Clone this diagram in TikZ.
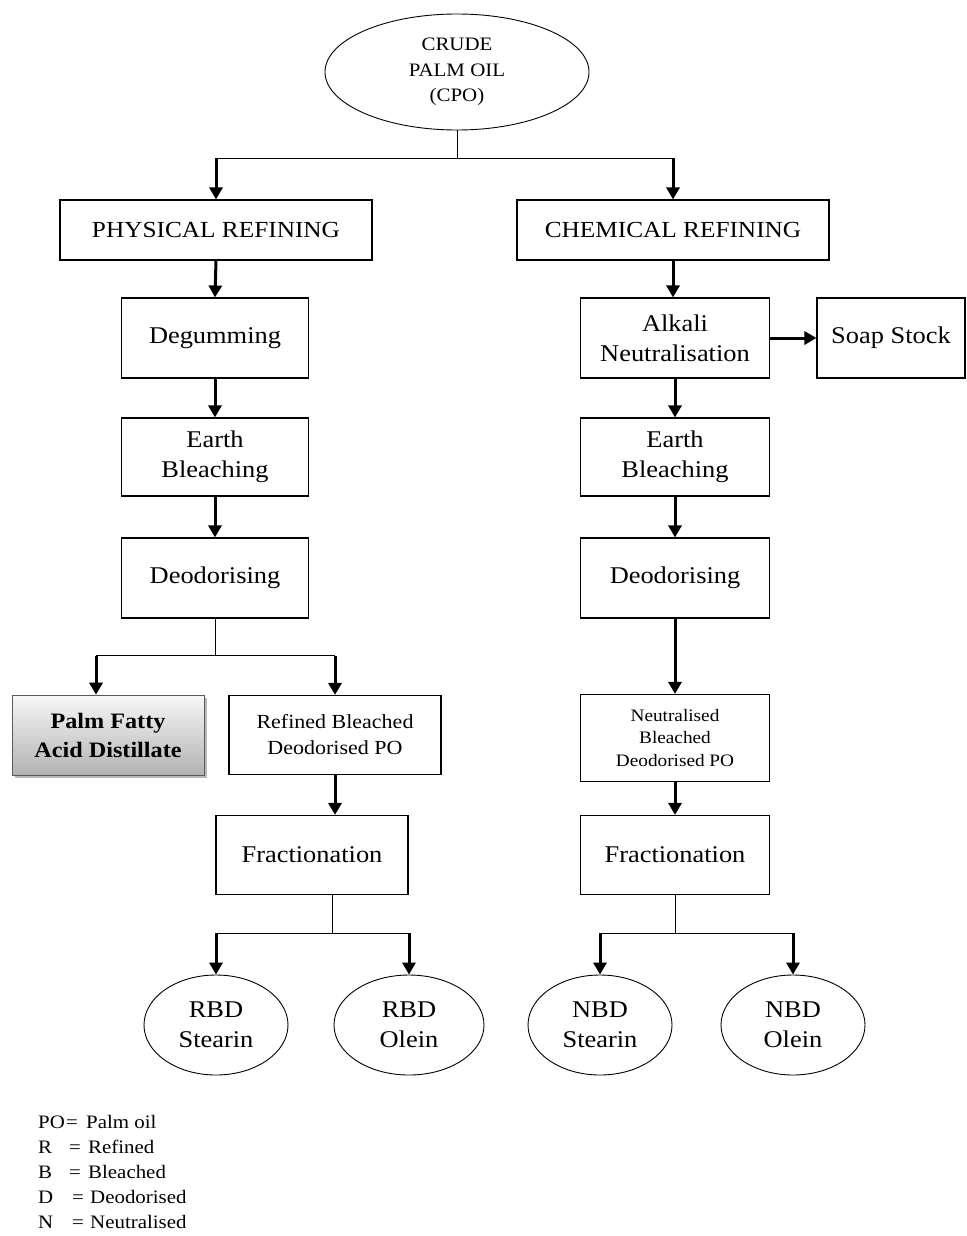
\documentclass[tikz,border=0pt]{standalone}
\usepackage{fontspec}
\setmainfont{Liberation Serif}[FakeStretch=1.1]
\usetikzlibrary{arrows.meta,shapes.geometric,shadows}
\begin{document}
\begin{tikzpicture}[x=1pt,y=-1pt,
  box/.style={draw, line width=1.1pt, align=center, inner sep=0pt,
    font=\fontsize{24}{30}\selectfont},
  oval/.style={draw, ellipse, line width=0.9pt, align=center, inner sep=0pt,
    font=\fontsize{24}{30}\selectfont},
  conn/.style={line width=1pt},
  arr/.style={line width=3pt, -{Triangle[length=12pt,width=13pt]}},
  leg/.style={anchor=base west, inner sep=0pt, font=\fontsize{19}{20}\selectfont}]
\useasboundingbox (0,0) rectangle (966,1236);
% top
\node[oval, minimum width=264pt, minimum height=116pt, font=\fontsize{19}{25.5}\selectfont] (cpo) at (457,72) {CRUDE\\PALM OIL\\(CPO)};
\node[box, minimum width=312pt, minimum height=60pt, font=\fontsize{23}{24}\selectfont] (phys) at (216,230) {PHYSICAL REFINING};
\node[box, minimum width=312pt, minimum height=60pt, font=\fontsize{23}{24}\selectfont] (chem) at (673,230) {CHEMICAL REFINING};
% physical branch
\node[box, minimum width=187pt, minimum height=80pt] (degum) at (215,338) {Degumming};
\node[box, minimum width=187pt, minimum height=78pt] (eb1) at (215,457) {Earth\\Bleaching};
\node[box, minimum width=187pt, minimum height=80pt] (deo1) at (215,578) {Deodorising};
\node[box, minimum width=192pt, minimum height=80pt, line width=0.6pt, draw=gray!70!black,
  top color=gray!6, bottom color=gray!60, drop shadow={shadow xshift=3pt, shadow yshift=-3pt, fill=gray!55, opacity=1},
  font=\bfseries\fontsize{22}{29}\selectfont] (pfad) at (108,735) {Palm Fatty\\Acid Distillate};
\node[box, minimum width=212pt, minimum height=79pt, font=\fontsize{20}{26}\selectfont] (rbdpo) at (335,735) {Refined Bleached\\Deodorised PO};
\node[box, minimum width=192pt, minimum height=79pt] (frac1) at (312,855) {Fractionation};
\node[oval, minimum width=144pt, minimum height=100pt] (rbds) at (216,1025) {RBD\\Stearin};
\node[oval, minimum width=150pt, minimum height=100pt] (rbdo) at (409,1025) {RBD\\Olein};
% chemical branch
\node[box, minimum width=189pt, minimum height=80pt] (alk) at (675,338) {Alkali\\Neutralisation};
\node[box, minimum width=148pt, minimum height=80pt] (soap) at (891,338) {Soap Stock};
\node[box, minimum width=189pt, minimum height=78pt] (eb2) at (675,457) {Earth\\Bleaching};
\node[box, minimum width=189pt, minimum height=80pt] (deo2) at (675,578) {Deodorising};
\node[box, minimum width=189pt, minimum height=87pt, font=\fontsize{17.5}{22.5}\selectfont] (nbdpo) at (675,738) {Neutralised\\Bleached\\Deodorised PO};
\node[box, minimum width=189pt, minimum height=79pt] (frac2) at (675,855) {Fractionation};
\node[oval, minimum width=144pt, minimum height=100pt] (nbds) at (600,1025) {NBD\\Stearin};
\node[oval, minimum width=144pt, minimum height=100pt] (nbdo) at (793,1025) {NBD\\Olein};
% connectors top
\draw[conn] (cpo.south) -- ++(0,28) coordinate (f0);
\draw[conn] (phys.north |- f0) -- (chem.north |- f0);
\draw[arr] (phys.north |- f0) -- (phys.north);
\draw[arr] (chem.north |- f0) -- (chem.north);
% physical connectors
\draw[arr] (phys.south) -- (degum.north);
\draw[arr] (degum.south) -- (eb1.north);
\draw[arr] (eb1.south) -- (deo1.north);
\draw[conn] (deo1.south) -- ++(0,37) coordinate (f1);
\coordinate (p1) at (96,0);
\draw[conn] (p1 |- f1) -- (rbdpo.north |- f1);
\draw[arr] (p1 |- f1) -- (p1 |- pfad.north);
\draw[arr] (rbdpo.north |- f1) -- (rbdpo.north);
\draw[arr] (rbdpo.south) -- (rbdpo.south |- frac1.north);
\coordinate (p2) at (332,0);
\draw[conn] (p2 |- frac1.south) -- ++(0,38) coordinate (f2);
\draw[conn] (rbds.north |- f2) -- (rbdo.north |- f2);
\draw[arr] (rbds.north |- f2) -- (rbds.north);
\draw[arr] (rbdo.north |- f2) -- (rbdo.north);
% chemical connectors
\draw[arr] (chem.south) -- (chem.south |- alk.north);
\draw[arr] (alk.east) -- (soap.west);
\draw[arr] (alk.south) -- (eb2.north);
\draw[arr] (eb2.south) -- (deo2.north);
\draw[arr] (deo2.south) -- (nbdpo.north);
\draw[arr] (nbdpo.south) -- (frac2.north);
\draw[conn] (frac2.south) -- ++(0,38) coordinate (f3);
\draw[conn] (nbds.north |- f3) -- (nbdo.north |- f3);
\draw[arr] (nbds.north |- f3) -- (nbds.north);
\draw[arr] (nbdo.north |- f3) -- (nbdo.north);
% legend
\node[leg] (l1a) at (38,1128) {PO};
\node[leg] (l1e) at (66,1128) {=};
\node[leg] (l1b) at (86,1128) {Palm oil};
\node[leg] (l2a) at (38,1153) {R};
\node[leg] (l2e) at (69,1153) {=};
\node[leg] (l2b) at (88,1153) {Refined};
\node[leg] (l3a) at (38,1178) {B};
\node[leg] (l3e) at (69,1178) {=};
\node[leg] (l3b) at (88,1178) {Bleached};
\node[leg] (l4a) at (38,1203) {D};
\node[leg] (l4e) at (72,1203) {=};
\node[leg] (l4b) at (90,1203) {Deodorised};
\node[leg] (l5a) at (38,1228) {N};
\node[leg] (l5e) at (72,1228) {=};
\node[leg] (l5b) at (90,1228) {Neutralised};
\end{tikzpicture}
\end{document}
